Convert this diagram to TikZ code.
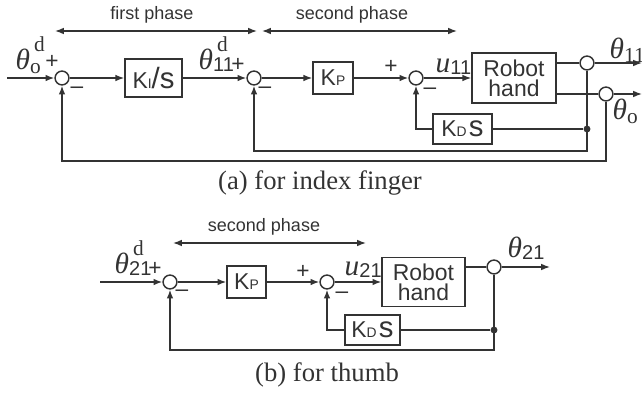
\documentclass[tikz,border=0pt]{standalone}
\usepackage{fontspec}
\setmainfont{Liberation Serif}
\setsansfont{Liberation Sans}
\usetikzlibrary{arrows.meta}
\definecolor{ink}{gray}{0.2}
\newcommand{\thx}{{\itshape θ}}
\newcommand{\subs}[1]{\raisebox{-1pt}{\fontsize{7.5}{7.5}\selectfont\sffamily #1}}
\newcommand{\subr}[1]{\raisebox{-1.5pt}{\fontsize{8}{8}\selectfont #1}}
\newcommand{\supd}{\rlap{\kern1.5pt\raisebox{6.5pt}{\fontsize{8}{8}\selectfont d}}}
\newcommand{\gainK}[1]{K{\fontsize{5.2}{5}\selectfont #1}}
\newcommand{\bigs}[1]{{\fontsize{11}{11}\selectfont #1}}
\tikzset{
    blk/.style={draw, inner sep=0pt, font=\fontsize{8.6}{7.6}\selectfont\sffamily, align=center},
    sumj/.style={draw, circle, fill=white, minimum size=5.2pt, inner sep=0pt},
    dotj/.style={fill, circle, minimum size=2.6pt, inner sep=0pt},
    sgn/.style={inner sep=0pt, font=\fontsize{8.5}{8.5}\selectfont\sffamily},
    lab/.style={inner sep=0pt, anchor=base west, font=\fontsize{11}{11}\selectfont},
    phase/.style={inner sep=0pt, font=\fontsize{6.75}{7}\selectfont\sffamily},
}
\begin{document}
\begin{tikzpicture}[x=0.375pt, y=-0.375pt, >={Latex[length=3.3pt,width=2.5pt]}, line width=0.55pt, color=ink]
    \useasboundingbox (0,0) rectangle (642,397);
    % (a) index finger: phases
    \coordinate (fp1) at (55,31);
    \coordinate (fp2) at (257,31);
    \coordinate (sp1) at (262,31);
    \coordinate (sp2) at (457,31);
    \draw[<->] (fp1) -- (fp2);
    \draw[<->] (sp1) -- (sp2);
    \node[phase] (fpt) at (152,15) {first phase};
    \node[phase] (spt) at (352,15) {second phase};
    % (a) blocks
    \node[sumj] (a1) at (62,78) {};
    \node[blk, minimum width=21.4pt, minimum height=14.25pt] (aki) at (153.5,78) {\gainK{I}\bigs{/s}};
    \node[sumj] (a2) at (254,78) {};
    \node[blk, minimum width=15pt, minimum height=12pt] (akp) at (333,78) {\gainK{P}};
    \node[sumj] (a3) at (416,78) {};
    \node[blk, minimum width=31.5pt, minimum height=18.75pt] (arh) at (514,78) {Robot\\hand};
    \node[sumj] (ao1) at (587,63) {};
    \node[sumj] (ao2) at (606,94) {};
    \node[dotj] (ad) at (587,129) {};
    \node[blk, minimum width=22.1pt, minimum height=11.25pt] (akd) at (462.5,129) {\gainK{D}\kern0.8pt\bigs{s}};
    \coordinate (ain) at (7,78);
    \coordinate (aout1) at (642,63);
    \coordinate (aout2) at (642,94);
    \coordinate (afb1) at (587,151);
    \coordinate (afb2) at (606,161);
    % (a) signals
    \draw[->] (ain) -- (a1);
    \draw[->] (a1) -- (aki);
    \draw[->] (aki) -- (a2);
    \draw[->] (a2) -- (akp);
    \draw[->] (akp) -- (a3);
    \draw[->] (a3) -- (arh);
    \draw (arh.east |- ao1) -- (ao1);
    \draw[->] (ao1) -- (aout1);
    \draw (arh.east |- ao2) -- (ao2);
    \draw[->] (ao2) -- (aout2);
    \draw[->] (ao1) -- (afb1) -| (a2);
    \draw[->] (ao2) -- (afb2) -| (a1);
    \draw (ad) -- (akd);
    \draw[->] (akd) -| (a3);
    % (a) labels
    \node[lab] (la1) at (15,69) {\thx\supd\subr{o}};
    \node[sgn] (pa1) at (52,62) {+};
    \node[sgn] (ma1) at (77,90) {--};
    \node[lab] (la2) at (198,69) {\thx\supd\subs{11}};
    \node[sgn] (pa2) at (238,65) {+};
    \node[sgn] (ma2) at (265,90) {--};
    \node[sgn] (pa3) at (391,67) {+};
    \node[sgn] (ma3) at (430,91) {--};
    \node[lab] (la3) at (435,72) {{\itshape u}\subs{11}};
    \node[lab] (la4) at (609,58) {\thx\subr{11}};
    \node[lab] (la5) at (612,119) {\thx\subr{o}};
    \node (capa) at (320,183) {(a) for index finger};
    % (b) thumb: phase
    \coordinate (bp1) at (173,243);
    \coordinate (bp2) at (366,243);
    \draw[<->] (bp1) -- (bp2);
    \node[phase] (bpt) at (264,227) {second phase};
    % (b) blocks
    \node[sumj] (b1) at (170,282) {};
    \node[blk, minimum width=14.6pt, minimum height=12pt] (bkp) at (246.5,282) {\gainK{P}};
    \node[sumj] (b2) at (327,282) {};
    \node[blk, minimum width=31.1pt, minimum height=18.4pt] (brh) at (423.5,282) {Robot\\hand};
    \node[sumj] (bo) at (494,267) {};
    \node[dotj] (bd) at (494,330) {};
    \node[blk, minimum width=20.6pt, minimum height=11.25pt] (bkd) at (372.5,330) {\gainK{D}\kern0.8pt\bigs{s}};
    \coordinate (bin) at (100,282);
    \coordinate (bout) at (550,267);
    \coordinate (bfb) at (494,350);
    % (b) signals
    \draw[->] (bin) -- (b1);
    \draw[->] (b1) -- (bkp);
    \draw[->] (bkp) -- (b2);
    \draw[->] (b2) -- (brh);
    \draw (brh.east |- bo) -- (bo);
    \draw[->] (bo) -- (bout);
    \draw[->] (bo) -- (bfb) -| (b1);
    \draw (bd) -- (bkd);
    \draw[->] (bkd) -| (b2);
    % (b) labels
    \node[lab] (lb1) at (114,273) {\thx\supd\subs{21}};
    \node[sgn] (pb1) at (155,269) {+};
    \node[sgn] (mb1) at (182,293) {--};
    \node[sgn] (pb2) at (303,272) {+};
    \node[sgn] (mb2) at (342,295) {--};
    \node[lab] (lb2) at (344,275) {{\itshape u}\subs{21}};
    \node[lab] (lb3) at (507,257) {\thx\subs{21}};
    \node (capb) at (327,375) {(b) for thumb};
\end{tikzpicture}
\end{document}
